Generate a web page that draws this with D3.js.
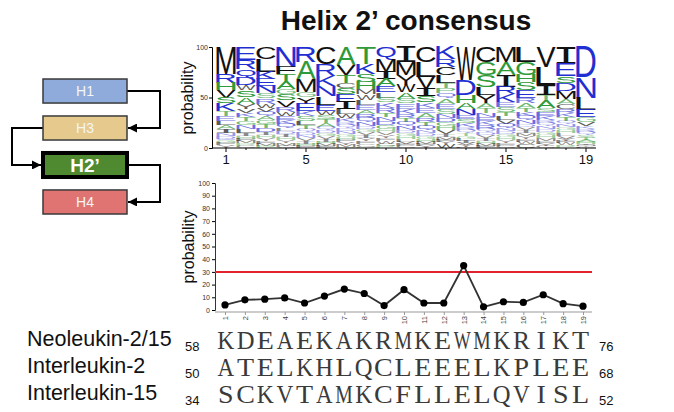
<!DOCTYPE html>
<html lang="en">
<head>
  <meta charset="UTF-8">
  <title>Helix 2’ consensus</title>
  <script src="https://d3js.org/d3.v7.min.js"></script>
  <style>
    body {
      margin: 0;
      padding: 0;
      background: #fff;
      font-family: "Liberation Sans", Arial, sans-serif;
    }
    svg { display: block; }
    .axis text { font-family: "Liberation Sans", Arial, sans-serif; }
  </style>
</head>
<body>
  <div id="chart"></div>

  <script>
    // --- data ---
    const positions = [1, 2, 3, 4, 5, 6, 7, 8, 9, 10, 11, 12, 13, 14, 15, 16, 17, 18, 19];
    const logoTicks = [1, 5, 10, 15, 19];

    // letter + probability (%), largest on top
    const logoColumns = [
      "M27 R9 H7 V7 S6 K7 T5 E5 L4 A4 I4 N3 D3 Q2 G2 F2 Y3",
      "E13 R9 Q8 D8 W5 S7 A6 Y5 V4 K4 T4 G4 N4 L4 I3 H3 F2 M2 P3 C2",
      "C12 L13 K7 E7 N7 S5 R5 W4 V4 Q4 A4 G4 T4 D4 I3 H3 Y3 F3 M2 P2",
      "N20 F7 T8 A7 G5 S6 V6 R5 W4 E4 K4 Q4 L3 D3 I3 H3 Y3 M3 C2",
      "R15 A17 M13 G5 Y6 E7 K5 S5 L4 T4 Q3 D3 N3 V3 I3 H2 F2",
      "C17 R12 K10 N10 L8 E6 W4 S4 T4 A4 Q3 D3 G3 V3 I3 H2 M2 F2",
      "A18 V10 T8 C5 S6 E7 I7 L5 W4 K4 R3 Q3 D3 N3 G3 H3 F2 Y3 M2 P1",
      "T17 K10 S8 H7 M5 W5 L5 E5 A4 R4 Q4 N4 D3 G3 V3 I3 Y3 F3 C3 P1",
      "Q13 M12 I7 A7 E6 L5 S5 K5 R5 T4 N4 D4 G4 H3 V3 Y3 F3 W3 C2 P2",
      "I15 M13 Y10 W7 A6 S5 E5 K5 R4 T4 Q4 N4 D3 G3 H3 L3 V2 F2 C2",
      "C15 L15 V12 I7 S6 K5 E5 A5 R4 T4 Q4 N3 D3 G3 H3 M2 F2 Y2",
      "K12 R8 C8 L8 T5 P5 Q5 A5 E5 S5 N4 D4 G4 H4 V4 I3 M3 F2 Y2 W4",
      "W33 D15 H7 A6 N6 E4 S4 K4 R3 Q3 T3 G3 L2 I2 V2 Y2 F1",
      "C15 G13 S12 L8 Y7 A5 T5 N4 E4 K4 R4 Q3 D3 V3 I3 H3 M2 F2",
      "M15 A13 I12 R7 K7 E5 S5 T4 L4 V4 Q4 N3 D3 G3 H3 Y3 F3 C2",
      "L15 G13 H7 S8 E7 R5 A5 T4 K4 Q4 N4 D3 V3 I3 M3 Y3 F3 W2 C4",
      "V20 L18 I10 T5 A7 S4 E4 K4 R3 Q3 N3 D3 G3 H3 M3 F3 Y2 C2",
      "I17 E12 S7 D8 M7 A5 C5 R4 K4 T4 Q3 N3 G3 H3 L3 V3 Y2 F2 W2 P3",
      "D30 N20 L12 E7 G5 V4 K3 R3 Q3 S3 T2 A2 H2 I1 M1 Y1 F1"
    ];

    const nonConsensus = [4, 8, 8.5, 9.5, 5.5, 11, 16.5, 13, 3.5, 16, 5.5, 5.5, 35, 2.5, 6.5, 6, 12, 5, 3];
    const threshold = 30;

    const helices = ["H1", "H3", "H2’", "H4"];
    const helixColors = ["#8eabdb", "#e6c98c", "#4f8a30", "#df7472"];

    const proteins = ["Neoleukin-2/15", "Interleukin-2", "Interleukin-15"];
    const sequences = ["KDEAEKAKRMKEWMKRIKT", "ATELKHLQCLEEELKPLEE", "SCKVTAMKCFLLELQVISL"];
    const seqStart = [58, 50, 34];
    const seqEnd = [76, 68, 52];

    // --- setup ---
    const width = 674, height = 412;
    const svg = d3.select("#chart").append("svg")
      .attr("width", width)
      .attr("height", height);

    const residueColor = ch => "EDRKNQ".includes(ch) ? "#1f2fd2"
                             : "AGSTHP".includes(ch) ? "#2f9a3a" : "#111";
    // the logo's I has cross bars, so take it from a mono face
    const glyphFont = ch => ch === "I" ? "DejaVu Sans Mono" : "Liberation Sans";

    svg.append("text")
      .attr("x", 406)
      .attr("y", 30)
      .attr("text-anchor", "middle")
      .attr("font-size", 28)
      .attr("font-weight", "bold")
      .attr("fill", "#111")
      .text("Helix 2’ consensus");

    // --- sequence logo ---
    const xLogo = d3.scaleBand().domain(positions).range([216, 596]);
    const yLogo = d3.scaleLinear().domain([0, 100]).range([148, 47]);

    const ctx = document.createElement("canvas").getContext("2d");
    const boxes = {};
    function glyph(ch, font) {
      const key = font + ch;
      if (!boxes[key]) {
        ctx.font = `100px '${font}'`;
        const m = ctx.measureText(ch);
        boxes[key] = {
          l: -m.actualBoundingBoxLeft, r: m.actualBoundingBoxRight,
          t: -m.actualBoundingBoxAscent, b: m.actualBoundingBoxDescent
        };
      }
      return boxes[key];
    }

    const logo = svg.append("g");
    logoColumns.forEach((col, i) => {
      const x0 = xLogo(positions[i]) + 0.4;
      const w = xLogo.bandwidth() - 0.8;
      let cum = 100;
      col.split(" ").forEach(tok => {
        const ch = tok[0], v = +tok.slice(1);
        const top = yLogo(cum), bot = yLogo(cum - v);
        cum -= v;
        const g = glyph(ch, glyphFont(ch));
        const sx = w / (g.r - g.l), sy = (bot - top) / (g.b - g.t);
        logo.append("text")
          .attr("font-size", 100)
          .attr("font-family", glyphFont(ch))
          .attr("fill", residueColor(ch))
          .attr("fill-opacity", v >= 6 ? 1 : v >= 4 ? 0.7 : 0.5)
          .attr("transform", `translate(${x0},${top}) scale(${sx},${sy}) translate(${-g.l},${-g.t})`)
          .text(ch);
      });
    });

    const logoY = svg.append("g")
      .attr("class", "axis")
      .attr("transform", "translate(212,0)")
      .call(d3.axisLeft(yLogo).tickValues([0, 50, 100]).tickSize(3).tickPadding(1));
    logoY.selectAll("text").attr("font-size", 7).attr("fill", "#333");

    const logoX = svg.append("g")
      .attr("class", "axis")
      .attr("transform", "translate(0,148)")
      .call(d3.axisBottom(xLogo).tickSize(2).tickPadding(5)
        .tickFormat(d => logoTicks.includes(d) ? d : ""));
    logoX.select(".domain").attr("d", "M212,0H596");
    logoX.selectAll(".tick line").attr("y2", d => logoTicks.includes(d) ? 4 : 2);
    logoX.selectAll("text").attr("font-size", 13).attr("fill", "#111");

    svg.append("text")
      .attr("transform", "translate(193,98) rotate(-90)")
      .attr("text-anchor", "middle")
      .attr("font-size", 16)
      .attr("fill", "#111")
      .text("probability");

    // --- non-consensus probability line ---
    const xLine = d3.scalePoint().domain(positions).range([225, 583]);
    const yLine = d3.scaleLinear().domain([0, 100]).range([310, 183]);

    const lineY = svg.append("g")
      .attr("class", "axis")
      .attr("transform", "translate(215,0)")
      .call(d3.axisLeft(yLine).ticks(10).tickSize(3).tickPadding(2));
    lineY.selectAll("text").attr("font-size", 7).attr("fill", "#333");
    lineY.select(".domain").attr("stroke", "#333");

    const lineX = svg.append("g")
      .attr("class", "axis")
      .attr("transform", "translate(0,312)")
      .call(d3.axisBottom(xLine).tickSize(3).tickPadding(2));
    lineX.select(".domain").attr("d", "M215,0H592").attr("stroke", "#999");
    lineX.selectAll(".tick line").attr("stroke", "#999");
    lineX.selectAll("text")
      .attr("font-size", 7.5)
      .attr("fill", "#444")
      .attr("text-anchor", "end")
      .attr("dy", "0.32em")
      .attr("transform", "translate(0,4) rotate(-90)")
      .attr("x", 0)
      .attr("y", 0);

    svg.append("text")
      .attr("transform", "translate(194,247) rotate(-90)")
      .attr("text-anchor", "middle")
      .attr("font-size", 16)
      .attr("fill", "#111")
      .text("probability");

    svg.append("line")
      .attr("x1", 215).attr("x2", 592)
      .attr("y1", yLine(threshold)).attr("y2", yLine(threshold))
      .attr("stroke", "#e2232c")
      .attr("stroke-width", 2);

    svg.append("path")
      .datum(nonConsensus)
      .attr("fill", "none")
      .attr("stroke", "#333")
      .attr("stroke-width", 1.8)
      .attr("d", d3.line().x((d, i) => xLine(positions[i])).y(d => yLine(d)));

    svg.selectAll(".dot")
      .data(nonConsensus)
      .enter()
      .append("circle")
      .attr("class", "dot")
      .attr("cx", (d, i) => xLine(positions[i]))
      .attr("cy", d => yLine(d))
      .attr("r", 3.6)
      .attr("fill", "#000");

    // --- helix order diagram ---
    const yBox = d3.scaleBand().domain(helices).range([79, 214]).paddingInner(0.35);
    const bx0 = 43, bx1 = 127;
    const mid = h => yBox(h) + yBox.bandwidth() / 2;

    svg.append("defs").append("marker")
      .attr("id", "arrow")
      .attr("markerUnits", "userSpaceOnUse")
      .attr("viewBox", "0 0 10 10")
      .attr("refX", 10).attr("refY", 5)
      .attr("markerWidth", 10).attr("markerHeight", 9)
      .attr("orient", "auto")
      .append("path")
      .attr("d", "M0,0L10,5L0,10Z")
      .attr("fill", "#000");

    const links = [
      `M${bx1},${mid("H1")}H160V${mid("H3")}H${bx1 + 1}`,
      `M${bx0},${mid("H3")}H12V${mid("H2’")}H${bx0 - 2}`,
      `M${bx1 + 2},${mid("H2’")}H160V${mid("H4")}H${bx1 + 1}`
    ];
    svg.selectAll(".link")
      .data(links)
      .enter()
      .append("path")
      .attr("class", "link")
      .attr("d", d => d)
      .attr("fill", "none")
      .attr("stroke", "#000")
      .attr("stroke-width", 2)
      .attr("marker-end", "url(#arrow)");

    svg.selectAll(".helix")
      .data(helices)
      .enter()
      .append("rect")
      .attr("class", "helix")
      .attr("x", bx0)
      .attr("y", d => yBox(d))
      .attr("width", bx1 - bx0)
      .attr("height", yBox.bandwidth())
      .attr("fill", (d, i) => helixColors[i])
      .attr("stroke", d => d === "H2’" ? "#000" : "#3a3a3a")
      .attr("stroke-width", d => d === "H2’" ? 4 : 1.5);

    svg.selectAll(".helix-label")
      .data(helices)
      .enter()
      .append("text")
      .attr("class", "helix-label")
      .attr("x", (bx0 + bx1) / 2)
      .attr("y", d => mid(d))
      .attr("dy", "0.36em")
      .attr("text-anchor", "middle")
      .attr("font-size", d => d === "H2’" ? 19 : 14)
      .attr("font-weight", d => d === "H2’" ? "bold" : "normal")
      .attr("fill", d => d === "H2’" ? "#fff" : "#f5f5f5")
      .text(d => d);

    // --- sequence alignment ---
    const yRow = d3.scalePoint().domain(proteins).range([348, 402]);
    const pitch = 19.7;   // monospaced residue pitch
    const seqFont = "Liberation Serif";
    const seqSize = 25;
    // squeeze/stretch each serif glyph toward one width, Courier-like
    const seqScale = ch => {
      const g = glyph(ch, seqFont);
      const gw = (g.r - g.l) * seqSize / 100;
      return Math.max(0.72, Math.min(1.12, 16.5 / gw));
    };

    svg.selectAll(".protein")
      .data(proteins)
      .enter()
      .append("text")
      .attr("class", "protein")
      .attr("x", 27)
      .attr("y", d => yRow(d) - 2)
      .attr("font-size", 21.5)
      .attr("fill", "#111")
      .text(d => d);

    svg.selectAll(".seq-start")
      .data(seqStart)
      .enter()
      .append("text")
      .attr("x", 185)
      .attr("y", (d, i) => yRow(proteins[i]) + 3)
      .attr("font-size", 13)
      .attr("fill", "#111")
      .text(d => d);

    sequences.forEach((seq, r) => {
      svg.append("g")
        .selectAll("text")
        .data(seq.split(""))
        .enter()
        .append("text")
        .attr("transform", (d, i) =>
          `translate(${216 + pitch * (i + 0.5)},${yRow(proteins[r]) + 1}) scale(${seqScale(d)},1)`)
        .attr("text-anchor", "middle")
        .attr("font-family", `'${seqFont}', serif`)
        .attr("font-size", seqSize)
        .attr("fill", "#3a3a3a")
        .text(d => d);
    });

    svg.selectAll(".seq-end")
      .data(seqEnd)
      .enter()
      .append("text")
      .attr("x", 599)
      .attr("y", (d, i) => yRow(proteins[i]) + 3)
      .attr("font-size", 13)
      .attr("fill", "#111")
      .text(d => d);
  </script>
</body>
</html>
